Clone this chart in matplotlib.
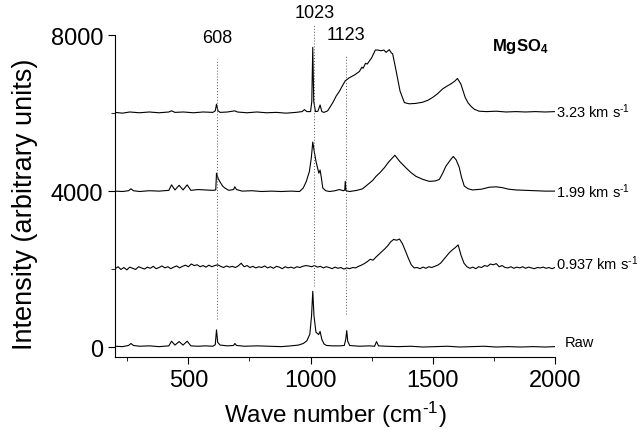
import matplotlib
matplotlib.use("Agg")
import matplotlib.pyplot as plt
import numpy as np

plt.rcParams['font.family'] = ['Liberation Sans', 'DejaVu Sans']
plt.rcParams['mathtext.fontset'] = 'custom'
plt.rcParams['mathtext.rm'] = 'Liberation Sans'
plt.rcParams['mathtext.default'] = 'regular'

# Raw spectrum (wavenumber, intensity)
raw = [(200, 20), (230, 10), (255, 40), (265, 90), (275, 40), (300, 20), (340, 30),
       (380, 10), (420, 30), (431, 150), (445, 50), (462, 140), (478, 50), (495, 150),
       (510, 30), (540, 20), (570, 30), (600, 20), (610, 60), (615, 440), (620, 120),
       (630, 50), (660, 30), (685, 40), (690, 90), (697, 40), (730, 20), (780, 30),
       (830, 20), (880, 10), (920, 30), (950, 50), (970, 90), (985, 160), (997, 330),
       (1004, 800), (1009, 1430), (1014, 800), (1022, 380), (1033, 320), (1039, 400),
       (1046, 200), (1055, 80), (1065, 40), (1090, 30), (1120, 30), (1138, 40),
       (1144, 200), (1148, 420), (1152, 150), (1160, 40), (1200, 20), (1240, 30),
       (1262, 20), (1270, 140), (1278, 30), (1310, 20), (1360, 10), (1410, 20),
       (1460, 0), (1510, 10), (1560, 20), (1610, 0), (1660, 10), (1710, 20), (1760, 0),
       (1810, 10), (1860, 0), (1910, 10), (1960, 0), (2000, 10)]

# 0.937 km/s spectrum, every 12 cm-1 from 200
v0937_start, v0937_step = 200, 12
v0937 = [2010, 2060, 1990, 2040, 1980, 2050, 2020, 1990, 2060, 2030,
         2000, 2050, 2020, 2070, 2010, 2040, 2080, 2030, 2060, 2010,
         2050, 2080, 2030, 2070, 2100, 2060, 2130, 2090, 2110, 2060,
         2090, 2050, 2100, 2060, 2090, 2110, 2070, 2040, 2080, 2050,
         2070, 2040, 2080, 2150, 2060, 2090, 2040, 2070, 2030, 2060,
         2040, 2080, 2030, 2060, 2020, 2070, 2050, 2010, 2060, 2030,
         2050, 2020, 2060, 2040, 2070, 2090, 2080, 2060, 2090, 2050,
         2070, 2030, 2060, 2040, 2010, 2050, 2020, 2040, 2000, 2030,
         2010, 2040, 2030, 2070, 2100, 2140, 2190, 2250, 2230, 2310,
         2380, 2450, 2520, 2600, 2700, 2760, 2740, 2770, 2650, 2470,
         2280, 2110, 2030, 2040, 2010, 2050, 2020, 2060, 2040, 2070,
         2100, 2150, 2240, 2330, 2420, 2490, 2550, 2620, 2350, 2150,
         2060, 2020, 2050, 2010, 2060, 2040, 2090, 2070, 2130, 2110,
         2140, 2060, 2090, 2040, 2030, 2060, 2020, 2050, 2030, 2060,
         2020, 2050, 2030, 2010, 2040, 2030, 2050, 2020, 2040, 2010,
         2040]

# 1.99 km/s spectrum
v199 = [(200, 4000), (230, 3990), (255, 4010), (265, 4060), (275, 4010), (300, 3990),
        (340, 4010), (380, 4000), (420, 4020), (431, 4160), (445, 4030), (462, 4150),
        (478, 4030), (495, 4160), (510, 4020), (540, 4040), (570, 4030), (600, 4020),
        (612, 4030), (615, 4460), (622, 4320), (629, 4240), (640, 4130), (649, 4080),
        (665, 4020), (685, 4040), (690, 4110), (697, 4040), (720, 4000), (760, 4010),
        (800, 3990), (840, 4000), (880, 3990), (920, 4000), (955, 3990), (970, 4080),
        (982, 4240), (995, 4500), (1003, 4850), (1009, 5260), (1016, 4980), (1023, 4740),
        (1034, 4460), (1039, 4540), (1044, 4350), (1050, 4080), (1062, 4010), (1078, 3990),
        (1100, 4010), (1118, 4040), (1135, 4010), (1140, 4030), (1142, 4250), (1145, 4010),
        (1160, 3990), (1190, 4020), (1213, 4060), (1240, 4200), (1255, 4280), (1268, 4380),
        (1285, 4480), (1302, 4600), (1320, 4750), (1345, 4920), (1365, 4760), (1390, 4600),
        (1410, 4480), (1431, 4380), (1460, 4300), (1486, 4250), (1510, 4260), (1527, 4300),
        (1540, 4450), (1554, 4640), (1570, 4780), (1584, 4890), (1596, 4800), (1608, 4620),
        (1618, 4350), (1629, 4130), (1645, 4060), (1663, 4030), (1700, 4050), (1731, 4100),
        (1760, 4110), (1784, 4090), (1810, 4050), (1840, 4030), (1880, 4020), (1920, 4010),
        (1960, 4000), (2000, 4000)]

# 3.23 km/s spectrum
v323 = [(200, 6020), (230, 6000), (260, 6030), (300, 6010), (340, 6030), (380, 6010),
        (420, 6030), (431, 6060), (445, 6020), (480, 6030), (520, 6010), (560, 6030),
        (600, 6020), (610, 6060), (615, 6230), (621, 6060), (630, 6020), (660, 6030),
        (690, 6060), (700, 6030), (740, 6010), (780, 6030), (820, 6010), (860, 6020),
        (900, 6000), (940, 6020), (965, 6040), (975, 6090), (985, 6040), (1000, 6040),
        (1005, 6300), (1009, 7690), (1013, 6300), (1020, 6040), (1030, 6050), (1039, 6210),
        (1046, 6040), (1055, 6020), (1070, 6060), (1080, 6160), (1091, 6270), (1105, 6440),
        (1118, 6560), (1130, 6700), (1142, 6830), (1159, 6910), (1180, 6980), (1200, 7070),
        (1210, 7180), (1215, 7150), (1225, 7280), (1232, 7260), (1241, 7340), (1250, 7420),
        (1265, 7620), (1275, 7620), (1288, 7600), (1300, 7620), (1309, 7560), (1322, 7630),
        (1330, 7550), (1336, 7520), (1350, 7090), (1366, 6570), (1384, 6270), (1404, 6240),
        (1430, 6250), (1458, 6280), (1480, 6330), (1499, 6400), (1520, 6500), (1540, 6620),
        (1560, 6700), (1574, 6750), (1590, 6820), (1601, 6890), (1615, 6750), (1633, 6400),
        (1645, 6260), (1656, 6180), (1670, 6100), (1690, 6050), (1720, 6040), (1760, 6050),
        (1800, 6030), (1840, 6040), (1880, 6030), (1920, 6040), (1960, 6030), (2000, 6040)]

# marked bands: label, x position, dotted line span, label height
band_labels = ['608', '1023', '1123']
band_x = [617, 1015, 1146]
band_lo = [720, 1570, 850]
band_hi = [7380, 8250, 7500]
band_text_y = [7950, 8590, 8020]

HY = '\u2010'
curve_labels = ['3.23 km s$^{%s1}$' % HY, '1.99 km s$^{%s1}$' % HY,
                '0.937 km s$^{%s1}$' % HY, 'Raw']
curve_label_y = [6060, 4020, 2170, 130]

fig = plt.figure(figsize=(6.43, 4.31), dpi=100)
ax = fig.add_axes([0.179, 0.169, 0.684, 0.747])

for data in (raw, v199, v323):
    w, i = zip(*data)
    ax.plot(w, i, color='black', lw=0.8)
w0937 = v0937_start + v0937_step * np.arange(len(v0937))
ax.plot(w0937, v0937, color='black', lw=0.8)

for lab, x, lo, hi, ty in zip(band_labels, band_x, band_lo, band_hi, band_text_y):
    ax.plot([x, x], [lo, hi], color='#555555', ls=(0, (1, 2)), lw=0.7, clip_on=False)
    ax.text(x, ty, lab, ha='center', va='center', fontsize=13, clip_on=False)

for lab, ty in zip(curve_labels, curve_label_y):
    xx = 2040 if lab == 'Raw' else 2004
    ax.text(xx, ty, lab, ha='left', va='center', fontsize=10.5, clip_on=False)

ax.text(1742, 7740, 'MgSO$_4$', ha='left', va='center', fontsize=12,
        fontweight='bold', clip_on=False)

ax.set_xlim(200, 2000)
ax.set_ylim(-260, 8000)
ax.set_xticks([500, 1000, 1500, 2000])
ax.set_xticks([250, 750, 1250, 1750], minor=True)
ax.set_yticks([0, 4000, 8000])
ax.set_yticks([2000, 6000], minor=True)
ax.spines['top'].set_visible(False)
ax.spines['right'].set_visible(False)
ax.tick_params(which='major', direction='out', length=5, labelsize=17)
ax.tick_params(which='minor', direction='out', length=3)
ax.set_xlabel('Wave number (cm$^{%s1}$)' % HY, fontsize=17.5, labelpad=6)
ax.set_ylabel('Intensity (arbitrary units)', fontsize=19.5)
ax.yaxis.set_label_coords(-0.175, 0.478)

fig.savefig('out.png', dpi=100)
